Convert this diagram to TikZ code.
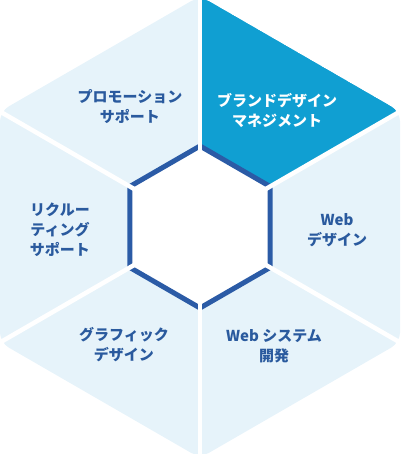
\documentclass[tikz,border=0pt]{standalone}
\usepackage{fontspec}
\newfontfamily\jpfont{Noto Sans CJK JP}

\definecolor{segfill}{HTML}{E6F3FA}
\definecolor{brandblue}{HTML}{109FD2}
\definecolor{hexblue}{HTML}{2B5BA6}
\definecolor{txtblue}{HTML}{2A5A9E}

\begin{document}
\begin{tikzpicture}[
  x=1pt, y=1pt,
  lbl/.style={align=center, font=\jpfont\bfseries\fontsize{15}{20}\selectfont, text=txtblue},
  gap/.style={white, line width=4.5pt}
]
  \useasboundingbox (-200,-227) rectangle (200,227);

  \coordinate (c) at (0,0);
  \foreach \i in {1,...,6} {
    \coordinate (v\i) at ({30+60*(\i-1)}:231);
    \coordinate (h\i) at ({30+60*(\i-1)}:81);
  }

  % outer hexagon, brand segment on top
  \fill[segfill, rounded corners=10pt] (v1) -- (v2) -- (v3) -- (v4) -- (v5) -- (v6) -- cycle;
  \begin{scope}
    \clip[rounded corners=10pt] (v1) -- (v2) -- (v3) -- (v4) -- (v5) -- (v6) -- cycle;
    \fill[brandblue] (c) -- (v2) -- (v1) -- cycle;
  \end{scope}

  % inner hexagon
  \draw[hexblue, line width=5pt, fill=white] (h1) -- (h2) -- (h3) -- (h4) -- (h5) -- (h6) -- cycle;

  % dividers
  \foreach \i in {1,...,6}
    \draw[gap] (c) -- (v\i);

  \node[lbl] (promo)   at (-70,120)  {プロモーション\\サポート};
  \node[lbl, text=white] (brand) at (77,117) {ブランドデザイン\\マネジメント};
  \node[lbl] (webdes)  at (137,-3)   {Web\\デザイン};
  \node[lbl] (websys)  at (74,-119)  {Web システム\\開発};
  \node[lbl] (graphic) at (-76,-118) {グラフィック\\デザイン};
  \node[lbl] (recruit) at (-140,-3)  {リクルー\\ティング\\サポート};
\end{tikzpicture}
\end{document}
